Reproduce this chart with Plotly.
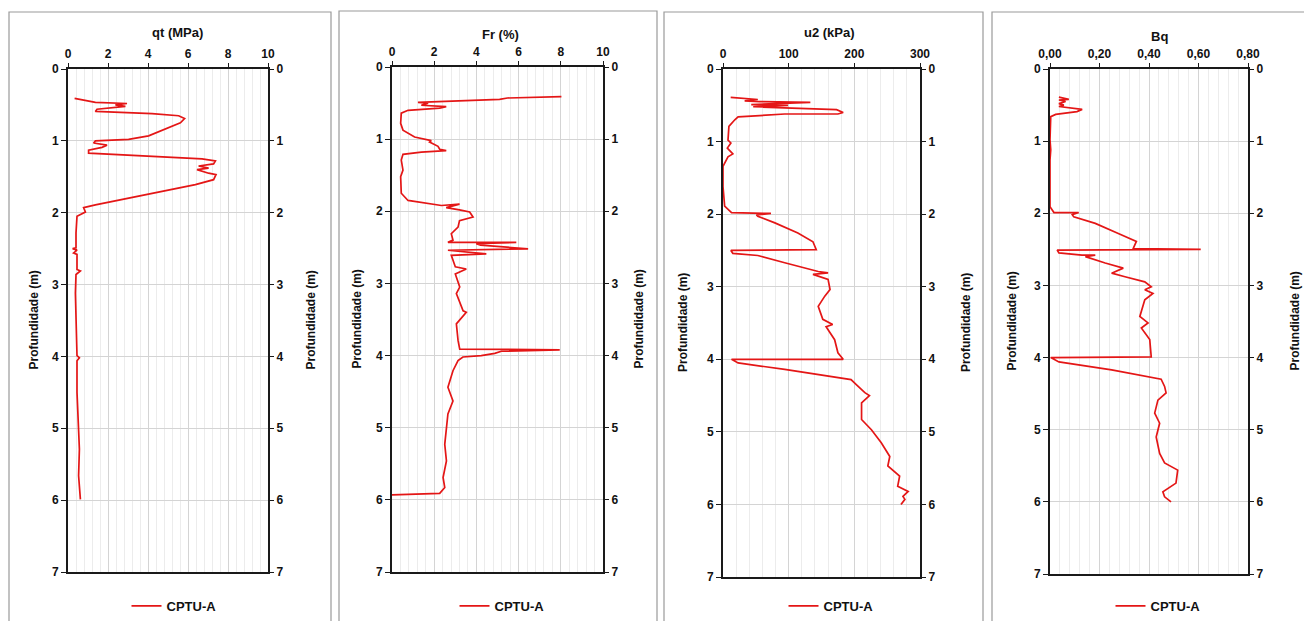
import plotly.graph_objects as go

# ---------------- data (value, depth) ----------------
qt_mpa = [0.33, 1.37, 2.95, 2.37, 2.87, 1.45, 1.37, 4.2, 5.53, 5.83, 5.62, 5.03, 4.03, 3.03, 1.37, 1.28, 1.95, 1.7, 1.03, 1.03,
          3.03, 6.7, 7.37, 7.28, 6.53, 7.03, 6.45, 7.03, 7.4, 7.28, 6.37, 4.7, 3.03, 1.37, 0.78, 0.87, 0.45, 0.4, 0.4, 0.23,
          0.45, 0.28, 0.45, 0.45, 0.62, 0.4, 0.37, 0.4, 0.45, 0.57, 0.45, 0.45, 0.5, 0.57, 0.53, 0.62]
qt_depth = [0.41, 0.465, 0.48, 0.5, 0.52, 0.56, 0.59, 0.62, 0.65, 0.69, 0.75, 0.82, 0.93, 0.98, 1.0, 1.03, 1.06, 1.09, 1.13, 1.17,
            1.2, 1.25, 1.28, 1.32, 1.35, 1.38, 1.4, 1.45, 1.47, 1.54, 1.61, 1.7, 1.8, 1.89, 1.93, 1.99, 2.05, 2.28, 2.49, 2.5,
            2.52, 2.56, 2.58, 2.79, 2.81, 2.86, 3.12, 3.58, 3.99, 4.02, 4.06, 4.5, 4.97, 5.29, 5.66, 5.99]

fr_pct = [8.03, 5.47, 5.1, 2.5, 1.23, 1.71, 1.39, 2.57, 2.26, 0.76, 0.44, 0.41, 0.52, 1.07, 1.55, 1.86, 1.78, 1.94, 2.18, 2.26,
          2.57, 1.39, 0.52, 0.44, 0.52, 0.41, 0.44, 0.76, 1.55, 2.34, 3.2, 2.57, 3.2, 3.44, 3.68, 3.84, 3.2, 3.13, 2.81, 2.89,
          2.65, 5.89, 3.99, 4.2, 6.45, 2.65, 4.47, 2.81, 3.0, 3.52, 3.0, 3.21, 3.05, 3.37, 3.52, 3.05, 3.13, 3.21, 7.95, 5.18,
          4.87, 4.23, 3.36, 3.13, 2.89, 2.65, 2.89, 2.65, 2.58, 2.5, 2.58, 2.42, 2.5, 2.26, 0.0]
fr_depth = [0.41, 0.43, 0.45, 0.47, 0.49, 0.5, 0.53, 0.55, 0.57, 0.6, 0.64, 0.78, 0.875, 0.97, 1.0, 1.02, 1.04, 1.06, 1.1, 1.14,
            1.16, 1.18, 1.21, 1.29, 1.43, 1.52, 1.75, 1.85, 1.89, 1.92, 1.9, 1.95, 1.98, 1.99, 2.01, 2.08, 2.13, 2.22, 2.31, 2.4,
            2.43, 2.43, 2.45, 2.47, 2.52, 2.54, 2.59, 2.61, 2.77, 2.8, 2.87, 3.05, 3.14, 3.38, 3.4, 3.56, 3.79, 3.91, 3.92, 3.94,
            3.97, 4.0, 4.02, 4.07, 4.21, 4.44, 4.63, 4.81, 5.0, 5.23, 5.46, 5.69, 5.83, 5.91, 5.93]

u2_kpa = [11.7, 53, 33, 56, 133, 43, 99, 46, 173, 183, 175, 94, 23, 18, 9, 7.6, 12, 6.6, 15, 7.6,
          0, 0, 2.5, 13, 73, 51, 53, 79, 114, 137, 142, 12, 15, 53, 94, 145, 160, 137, 160, 163,
          155, 145, 152, 167, 157, 170, 175, 183, 13, 23, 94, 195, 203, 216, 223, 211, 211, 226, 241, 254,
          251, 269, 266, 282, 274, 277, 271]
u2_depth = [0.39, 0.42, 0.44, 0.45, 0.46, 0.49, 0.5, 0.52, 0.56, 0.6, 0.62, 0.62, 0.66, 0.7, 0.79, 0.98, 1.02, 1.09, 1.17, 1.21,
            1.34, 1.62, 1.89, 1.98, 1.99, 2.01, 2.03, 2.12, 2.26, 2.38, 2.49, 2.5, 2.54, 2.57, 2.67, 2.79, 2.81, 2.83, 2.9, 3.04,
            3.13, 3.27, 3.45, 3.52, 3.55, 3.73, 3.91, 4.0, 4.0, 4.05, 4.14, 4.28, 4.35, 4.46, 4.5, 4.6, 4.83, 4.97, 5.15, 5.34,
            5.47, 5.61, 5.75, 5.82, 5.89, 5.93, 6.0]

bq = [0.036, 0.076, 0.036, 0.063, 0.036, 0.056, 0.036, 0.13, 0.109, 0.023, 0.003, 0.0, 0.003, 0.0, 0.0, 0.016, 0.116, 0.09, 0.096, 0.183,
      0.276, 0.336, 0.349, 0.336, 0.609, 0.029, 0.036, 0.129, 0.183, 0.143, 0.223, 0.296, 0.249, 0.303, 0.383, 0.409, 0.383, 0.416, 0.383, 0.363,
      0.396, 0.369, 0.403, 0.409, 0.003, 0.036, 0.249, 0.449, 0.463, 0.469, 0.436, 0.423, 0.443, 0.429, 0.443, 0.463, 0.516, 0.509, 0.489, 0.456,
      0.463, 0.489]
bq_depth = [0.39, 0.42, 0.43, 0.45, 0.48, 0.5, 0.52, 0.56, 0.59, 0.63, 0.66, 0.98, 1.12, 1.26, 1.91, 1.99, 1.99, 2.02, 2.05, 2.14,
            2.28, 2.37, 2.39, 2.49, 2.5, 2.51, 2.55, 2.58, 2.58, 2.6, 2.69, 2.76, 2.83, 2.88, 2.95, 3.02, 3.06, 3.11, 3.2, 3.43,
            3.52, 3.59, 3.75, 3.99, 4.0, 4.06, 4.17, 4.3, 4.4, 4.49, 4.59, 4.77, 4.91, 5.1, 5.33, 5.46, 5.56, 5.74, 5.79, 5.86,
            5.93, 6.0]

titles = ["qt (MPa)", "Fr (%)", "u2 (kPa)", "Bq"]
series_name = "CPTU-A"
y_title = "Profundidade (m)"
x_ranges = [[0, 10], [0, 10], [0, 300], [0, 0.8]]
x_dticks = [2, 2, 100, 0.2]
x_minor = [0.4, 0.4, 20, 0.04]
x_formats = ["d", "d", "d", ".2f"]
depth_range = [7, 0]

# ---------------- layout geometry (screen pixels) ----------------
W, H = 1312, 621
PAGE_OFF = 8  # default body margin of the html page
plot_px = [(68, 268, 69, 572), (392, 603, 67, 572), (723, 920, 69, 577), (1050, 1248, 69, 574)]
frames_px = [(9, 331, 12), (339, 657, 11), (664, 983, 12), (992, 1330, 12)]
ytitle_left_px = [33, 356, 683, 1011]
ytitle_right_px = [310, 638, 966, 1294]
title_pos_px = [(177, 33), (501, 35), (829, 33), (1159, 37)]
legend_x_px = [174, 502, 831, 1158]

def px(x):
    return (x - PAGE_OFF) / W

def py(y):
    return 1 - (y - PAGE_OFF) / H

RED = "#e41616"
FONT = dict(family="Liberation Sans, Arial, sans-serif", size=12, color="#111111", weight="bold")
TFONT = dict(FONT, size=13)
datasets = [(qt_mpa, qt_depth), (fr_pct, fr_depth), (u2_kpa, u2_depth), (bq, bq_depth)]

fig = go.Figure()
layout = dict(width=W, height=H, margin=dict(l=0, r=0, t=0, b=0, autoexpand=False),
              paper_bgcolor="white", plot_bgcolor="white", separators=",.",
              font=FONT, showlegend=True)
shapes, annotations = [], []

for i, (xv, dv) in enumerate(datasets):
    n = i + 1
    xa = "x" if n == 1 else f"x{n}"
    ya = "y" if n == 1 else f"y{n}"
    yr = f"y{n + 4}"
    lg = "legend" if n == 1 else f"legend{n}"
    x0, x1, y0, y1 = plot_px[i]
    fig.add_trace(go.Scatter(x=xv, y=dv, mode="lines", name=series_name,
                             line=dict(color=RED, width=1.7), xaxis=xa, yaxis=ya,
                             legend=lg, showlegend=True))
    fig.add_trace(go.Scatter(x=xv, y=dv, mode="lines", opacity=0, showlegend=False,
                             hoverinfo="skip", xaxis=xa, yaxis=yr, line=dict(width=0)))
    layout[f"xaxis{'' if n == 1 else n}"] = dict(
        domain=[px(x0), px(x1)], anchor=ya, side="top", range=x_ranges[i],
        dtick=x_dticks[i], tick0=0, tickformat=x_formats[i], automargin=False,
        showgrid=True, gridcolor="#d4d4d4", gridwidth=1,
        minor=dict(dtick=x_minor[i], showgrid=True, gridcolor="#ececec", gridwidth=1, ticks=""),
        showline=True, linecolor="#1a1a1a", linewidth=2, mirror=True,
        ticks="outside", ticklen=4, tickcolor="#1a1a1a", tickwidth=1,
        tickfont=FONT, zeroline=False, fixedrange=True)
    layout[f"yaxis{'' if n == 1 else n}"] = dict(
        domain=[py(y1), py(y0)], anchor=xa, side="left", range=depth_range, automargin=False,
        dtick=1, tick0=0, showgrid=True, gridcolor="#d4d4d4", gridwidth=1,
        showline=True, linecolor="#1a1a1a", linewidth=2, mirror=True,
        ticks="outside", ticklen=5, tickcolor="#1a1a1a", tickwidth=1,
        tickfont=FONT, zeroline=False, fixedrange=True)
    layout[f"yaxis{n + 4}"] = dict(
        domain=[py(y1), py(y0)], anchor=xa, overlaying=ya, side="right", range=depth_range,
        dtick=1, tick0=0, showgrid=False, showline=False, automargin=False,
        ticks="outside", ticklen=5, tickcolor="#1a1a1a", tickwidth=1,
        tickfont=FONT, zeroline=False, fixedrange=True)
    layout[lg] = dict(x=px(legend_x_px[i]), y=py(606), xanchor="center", yanchor="middle",
                      orientation="h", font=TFONT, bgcolor="rgba(0,0,0,0)", itemwidth=30)
    fx0, fx1, fy0 = frames_px[i]
    shapes.append(dict(type="rect", xref="paper", yref="paper", x0=px(fx0), x1=px(fx1),
                       y0=py(650), y1=py(fy0), line=dict(color="#9a9a9a", width=1.2),
                       fillcolor="rgba(0,0,0,0)", layer="below"))
    tx, ty = title_pos_px[i]
    annotations.append(dict(text=titles[i], xref="paper", yref="paper", x=px(tx),
                            y=py(ty), showarrow=False, font=TFONT,
                            xanchor="center", yanchor="middle"))
    ymid = py((y0 + y1) / 2)
    for xp in (ytitle_left_px[i], ytitle_right_px[i]):
        annotations.append(dict(text=y_title, xref="paper", yref="paper", x=px(xp), y=ymid,
                                textangle=-90, showarrow=False, font=FONT,
                                xanchor="center", yanchor="middle"))

layout["shapes"] = shapes
layout["annotations"] = annotations
fig.update_layout(**layout)
fig.write_html("out.html")
